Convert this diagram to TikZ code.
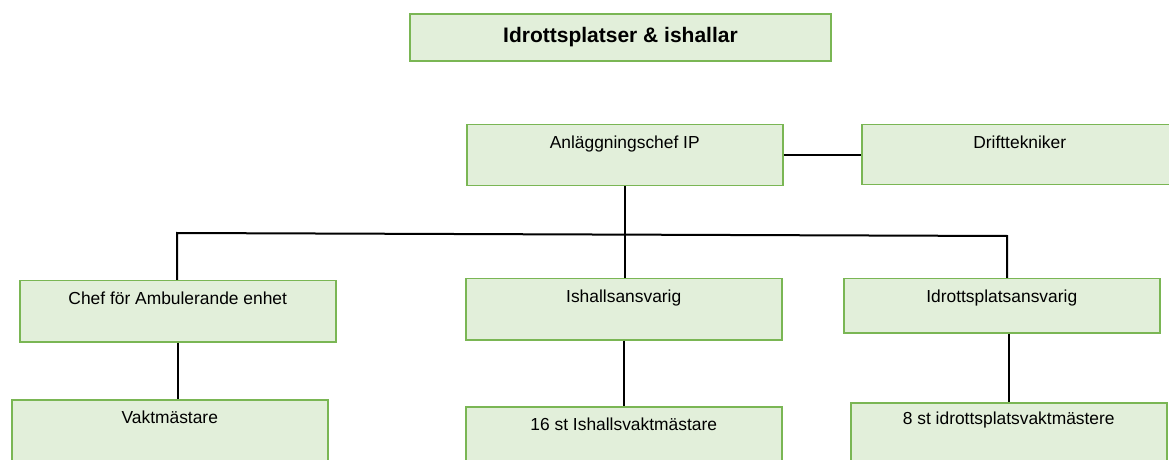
\documentclass[tikz,border=0pt]{standalone}
\usepackage{fontspec}
\setmainfont{Liberation Sans}
\definecolor{boxfill}{RGB}{226,239,218}
\definecolor{boxline}{RGB}{122,182,84}
\begin{document}
\begin{tikzpicture}[x=0.5pt,y=-0.5pt]
        \tikzstyle{unit}=[draw=boxline,fill=boxfill,line width=0.75pt,anchor=north west,inner sep=0pt,minimum width=158pt,text height=12pt,text depth=18.5pt,font=\fontsize{8.7}{10}\selectfont]
        \tikzstyle{link}=[draw, line width=1pt]
        \useasboundingbox (0,0) rectangle (1169,460);
        \begin{scope}
            \node [unit,minimum width=210.5pt,minimum height=23.5pt,text height=,text depth=,anchor=center,font=\fontsize{10.5}{12}\selectfont\bfseries] (title) at (620.5,37.5) {Idrottsplatser \& ishallar};
            \node [unit] (chefip) at (466,124) {Anläggningschef IP};
            \node [unit,text depth=18pt] (drift) at (861,124) {Drifttekniker};
            \node [unit] (ambchef) at (19,280) {Chef för Ambulerande enhet};
            \node [unit] (ishall) at (465,278) {Ishallsansvarig};
            \node [unit,text depth=15pt] (idrott) at (843,278) {Idrottsplatsansvarig};
            \node [unit,text depth=25pt] (vakt) at (11,399) {Vaktmästare};
            \node [unit,text depth=25pt] (ishvakt) at (465,406) {16 st Ishallsvaktmästare};
            \node [unit,text height=11pt,text depth=25pt] (idrvakt) at (850,402) {8 st idrottsplatsvaktmästere};
            \coordinate (busL) at (177,233);
            \coordinate (busR) at (1007,236);
            \path[link] (chefip.east) -- (chefip.east -| drift.west);
            \path[link] (chefip.south) -- (chefip.south |- ishall.north);
            \path[link] (busL |- ambchef.north) -- (busL) -- (busR) -- (busR |- idrott.north);
            \path[link] (ambchef.south) -- (ambchef.south |- vakt.north);
            \path[link] (ishall.south) -- (ishall.south |- ishvakt.north);
            \path[link] (idrvakt.north |- idrott.south) -- (idrvakt.north);
        \end{scope}
\end{tikzpicture}
\end{document}
